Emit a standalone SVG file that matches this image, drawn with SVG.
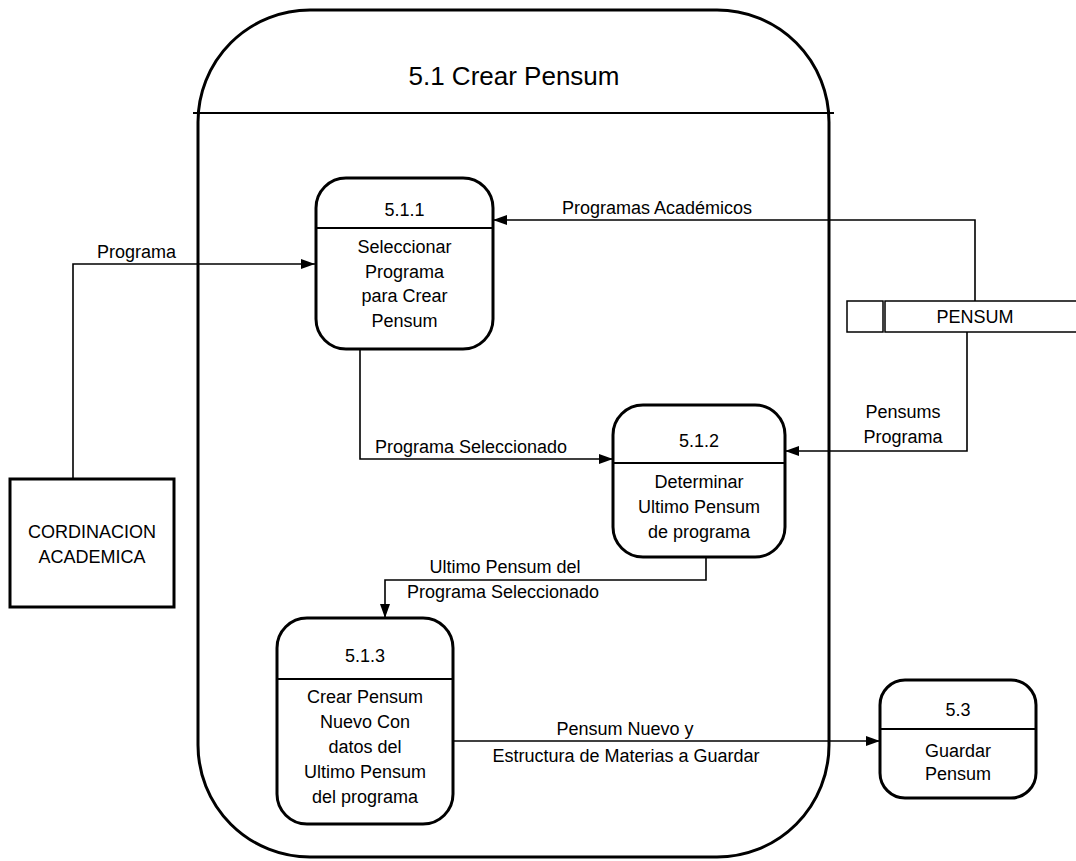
<svg xmlns="http://www.w3.org/2000/svg" width="1076" height="861" viewBox="0 0 1076 861">
<style>
text{font-family:"Liberation Sans",Arial,sans-serif;font-size:18px;fill:#000}
.c{text-anchor:middle}
.proc{fill:#fff;stroke:#000;stroke-width:3}
.div{stroke:#000;stroke-width:2}
.flow{fill:none;stroke:#000;stroke-width:1.6}
.thin{fill:none;stroke:#000;stroke-width:1.5}
</style>
<defs>
<marker id="ah" viewBox="0 0 14 10" refX="14" refY="5" markerWidth="14" markerHeight="10" markerUnits="userSpaceOnUse" orient="auto">
<path d="M0,0 L14,5 L0,10 Z" fill="#000"/>
</marker>
</defs>
<rect width="1076" height="861" fill="#fff"/>
<g id="container">
<rect x="198" y="10" width="631" height="847" rx="112" ry="112" fill="none" stroke="#000" stroke-width="3"/>
<line x1="193" y1="113" x2="834" y2="113" class="div" stroke-width="1.5"/>
<text x="514" y="85" class="c" style="font-size:26px">5.1 Crear Pensum</text>
</g>
<g id="connectors">
<path d="M73,479 V264 H315" class="flow" marker-end="url(#ah)"/>
<text x="97" y="258">Programa</text>
<path d="M975,301 V220 H493" class="flow" marker-end="url(#ah)"/>
<text x="562" y="214">Programas Académicos</text>
<path d="M360,349 V459 H613" class="flow" marker-end="url(#ah)"/>
<text x="375" y="453">Programa Seleccionado</text>
<path d="M967,332 V451 H785" class="flow" marker-end="url(#ah)"/>
<text x="903" y="418" class="c">Pensums</text>
<text x="903" y="443" class="c">Programa</text>
<path d="M706,557 V580 H385 V618" class="flow" marker-end="url(#ah)"/>
<text x="505" y="573" class="c">Ultimo Pensum del</text>
<text x="503" y="598" class="c">Programa Seleccionado</text>
<path d="M453,741 H880" class="flow" marker-end="url(#ah)"/>
<text x="625" y="735" class="c">Pensum Nuevo y</text>
<text x="626" y="762" class="c">Estructura de Materias a Guardar</text>
</g>
<g id="n511">
<rect x="316" y="178" width="177" height="171" rx="30" class="proc"/>
<line x1="316" y1="228" x2="493" y2="228" class="div"/>
<text x="404.5" y="216" class="c">5.1.1</text>
<text x="404.5" y="253" class="c">Seleccionar</text>
<text x="404.5" y="278" class="c">Programa</text>
<text x="404.5" y="302" class="c">para Crear</text>
<text x="404.5" y="327" class="c">Pensum</text>
</g>
<g id="n512">
<rect x="613" y="405" width="172" height="152" rx="30" class="proc"/>
<line x1="613" y1="463" x2="785" y2="463" class="div"/>
<text x="699" y="447" class="c">5.1.2</text>
<text x="699" y="488" class="c">Determinar</text>
<text x="699" y="513" class="c">Ultimo Pensum</text>
<text x="699" y="538" class="c">de programa</text>
</g>
<g id="n513">
<rect x="277" y="618" width="176" height="206" rx="30" class="proc"/>
<line x1="277" y1="679" x2="453" y2="679" class="div"/>
<text x="365" y="662" class="c">5.1.3</text>
<text x="365" y="703" class="c">Crear Pensum</text>
<text x="365" y="728" class="c">Nuevo Con</text>
<text x="365" y="753" class="c">datos del</text>
<text x="365" y="778" class="c">Ultimo Pensum</text>
<text x="365" y="803" class="c">del programa</text>
</g>
<g id="n53">
<rect x="880" y="680" width="156" height="118" rx="25" class="proc"/>
<line x1="880" y1="729" x2="1036" y2="729" class="div"/>
<text x="958" y="716" class="c">5.3</text>
<text x="958" y="757" class="c">Guardar</text>
<text x="958" y="780" class="c">Pensum</text>
</g>
<g id="cordinacion">
<rect x="10" y="479" width="164" height="128" fill="#fff" stroke="#000" stroke-width="3"/>
<text x="92" y="538" class="c">CORDINACION</text>
<text x="92" y="563" class="c">ACADEMICA</text>
</g>
<g id="pensum">
<rect x="847" y="301" width="36" height="31" fill="#fff" class="thin"/>
<rect x="885" y="301" width="200" height="31" fill="#fff" class="thin"/>
<text x="975" y="323" class="c">PENSUM</text>
</g>
</svg>
